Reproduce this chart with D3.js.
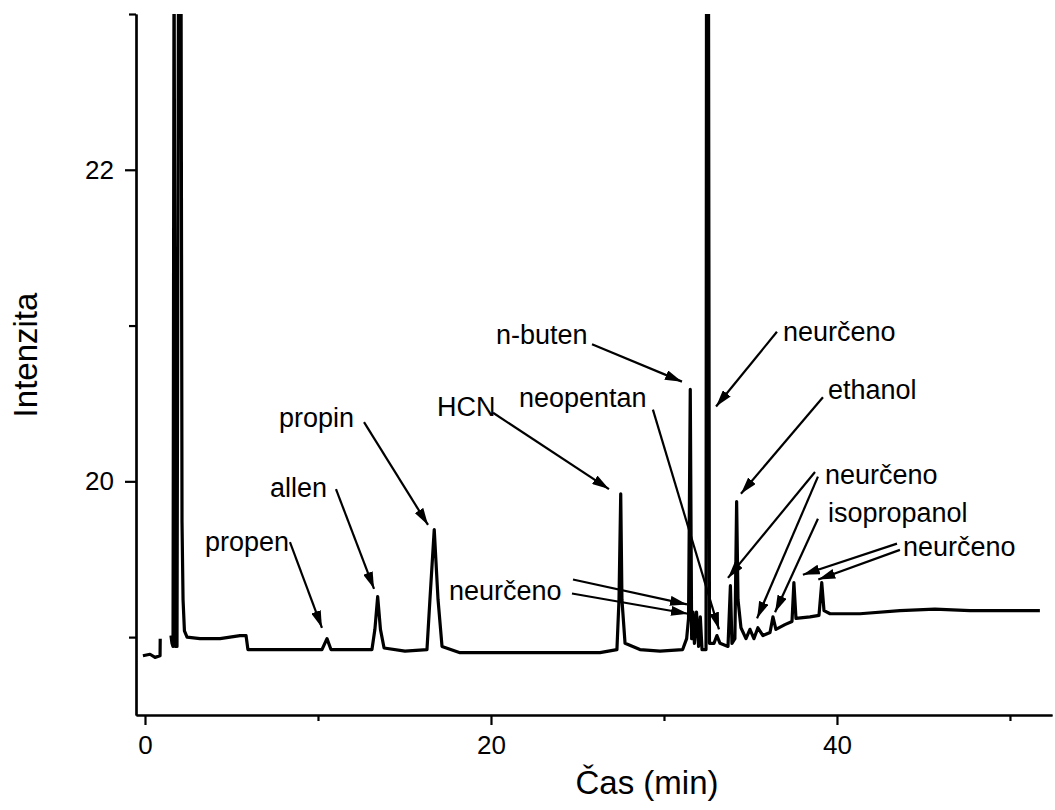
<!DOCTYPE html>
<html>
<head>
<meta charset="utf-8">
<script src="https://cdn.jsdelivr.net/npm/d3@7"></script>
<style>
  body { margin: 0; background: #fff; }
  text { font-family: "Liberation Sans", Arial, sans-serif; fill: #000; }
</style>
</head>
<body>
<div id="chart"></div>
<script>
// chromatogram trace (time in min, intensity)
const time = [
  -0.12, 0.29, 0.58, 0.87, 0.88, null,
  1.50, 1.56, 1.62, 1.68, 1.76, 1.85, 1.94, 2.08, 2.14, 2.20, 2.28, 2.43,
  3.18, 4.34, 5.49, 5.84, 5.95, 7.23, 8.96, 10.23, 10.52, 10.75, 11.85,
  13.12, 13.29, 13.45, 13.61, 13.82, 15.03, 16.30, 16.47, 16.72, 16.94, 17.17,
  18.21, 20.52, 23.99, 26.30, 27.28, 27.40, 27.50, 27.57, 27.75, 28.61,
  29.77, 31.08, 31.31, 31.42, 31.52, 31.60, 31.68, 31.76, 31.88, 32.00,
  32.10, 32.20, 32.43, 32.46, 32.57, 32.63, 32.89, 33.06, 33.24, 33.70,
  33.84, 33.93, 34.10, 34.20, 34.28, 34.45, 34.74, 34.97, 35.20, 35.43,
  35.72, 36.13, 36.30, 36.47, 36.99, 37.40, 37.51, 37.63, 38.44, 38.96,
  39.12, 39.25, 39.60, 41.33, 43.64, 45.66, 47.69, 49.42, 51.73
];
const intensity = [
  18.88, 18.89, 18.87, 18.88, 18.99, null,
  19.01, 18.96, 18.94, 23.5, 18.94, 18.94, 23.5, 23.5, 19.74, 19.24, 19.04, 19.00,
  18.99, 18.99, 19.01, 19.01, 18.92, 18.92, 18.92, 18.92, 18.99, 18.92, 18.92,
  18.92, 19.05, 19.26, 19.05, 18.93, 18.91, 18.92, 19.24, 19.69, 19.24, 18.94,
  18.90, 18.90, 18.90, 18.90, 18.92, 19.24, 19.92, 19.24, 18.96, 18.92,
  18.91, 18.92, 18.99, 19.12, 20.59, 18.99, 19.16, 18.96, 19.16, 18.94,
  19.13, 18.92, 18.92, 23.5, 23.5, 18.96, 18.96, 19.01, 18.96, 18.94,
  19.33, 18.96, 18.99, 19.87, 19.24, 19.06, 18.99, 19.05, 18.99, 19.06,
  19.01, 19.03, 19.13, 19.05, 19.08, 19.10, 19.35, 19.12, 19.13, 19.14,
  19.35, 19.17, 19.15, 19.15, 19.17, 19.18, 19.17, 19.17, 19.17
];

// axis ticks
const xMajorTicks = [0, 20, 40];
const xMinorTicks = [10, 30, 50];
const yMajorTicks = [20, 22];
const yMinorTicks = [19, 21, 23];

// peak labels: text anchor (time, intensity)
const labelText = ["propen", "allen", "propin", "HCN", "n-buten", "neopentan",
  "neurčeno", "ethanol", "neurčeno", "isopropanol", "neurčeno", "neurčeno"];
const labelTime = [3.47, 7.23, 7.75, 16.88, 20.29, 21.62, 36.88, 39.48, 39.31, 39.48, 43.82, 17.57];
const labelValue = [19.55, 19.90, 20.35, 20.42, 20.88, 20.48, 20.90, 20.53, 19.98, 19.74, 19.52, 19.24];

// arrows: label index, start (time, intensity), tip (time, intensity)
const arrowLabel = [0, 1, 2, 3, 4, 5, 6, 7, 8, 8, 9, 10, 10, 11, 11];
const arrowT0 = [8.38, 11.04, 12.66, 20.12, 25.84, 29.36, 36.53, 39.19, 38.73, 38.90, 38.90, 43.47, 43.64, 24.74, 24.68];
const arrowV0 = [19.61, 19.95, 20.38, 20.44, 20.88, 20.46, 20.96, 20.54, 20.06, 20.03, 19.76, 19.60, 19.56, 19.37, 19.28];
const arrowT1 = [10.23, 13.24, 16.36, 26.82, 31.04, 33.18, 33.01, 34.45, 33.70, 35.38, 36.42, 38.03, 38.92, 31.33, 31.39];
const arrowV1 = [19.06, 19.31, 19.72, 19.95, 20.64, 19.05, 20.48, 19.92, 19.38, 19.12, 19.16, 19.40, 19.37, 19.21, 19.15];

const width = 1055, height = 810;

const svg = d3.select("#chart").append("svg")
  .attr("width", width)
  .attr("height", height);

const x = d3.scaleLinear().domain([-0.52, 52.43]).range([136, 1052]);
const y = d3.scaleLinear().domain([18.5, 23]).range([715, 14]);

svg.append("defs").append("clipPath").attr("id", "plot")
  .append("rect").attr("x", 136).attr("y", 14).attr("width", 920).attr("height", 701);

const arrowHead = svg.select("defs").append("marker")
  .attr("id", "head")
  .attr("markerUnits", "userSpaceOnUse")
  .attr("viewBox", "0 0 17 10")
  .attr("refX", 17).attr("refY", 5)
  .attr("markerWidth", 17).attr("markerHeight", 10)
  .attr("orient", "auto");
arrowHead.append("path").attr("d", "M0,0 L17,5 L0,10 Z").attr("fill", "#000");

// trace
const trace = time.map((t, i) => ({ t: t, v: intensity[i] }));
const line = d3.line()
  .defined(d => d.t != null && d.v != null)
  .x(d => x(d.t))
  .y(d => y(d.v));

svg.append("path")
  .datum(trace)
  .attr("clip-path", "url(#plot)")
  .attr("d", line)
  .attr("fill", "none")
  .attr("stroke", "#000")
  .attr("stroke-width", 3.2)
  .attr("stroke-linejoin", "round");

// axes
const styleAxis = g => {
  g.selectAll("path, line").attr("stroke", "#000").attr("stroke-width", 2.2);
  g.selectAll("text").style("font-size", "26px").attr("fill", "#000")
    .style("font-family", "'Liberation Sans', Arial, sans-serif");
};

svg.append("g").attr("transform", "translate(0,715)")
  .call(d3.axisBottom(x).tickValues(xMajorTicks).tickSize(10).tickSizeOuter(0)
    .tickPadding(11).tickFormat(d3.format("d")))
  .call(styleAxis);
svg.append("g").attr("transform", "translate(0,715)")
  .call(d3.axisBottom(x).tickValues(xMinorTicks).tickSize(6).tickSizeOuter(0).tickFormat(""))
  .call(styleAxis);
svg.append("g").attr("transform", "translate(136,0)")
  .call(d3.axisLeft(y).tickValues(yMajorTicks).tickSize(11).tickSizeOuter(0)
    .tickPadding(11).tickFormat(d3.format("d")))
  .call(styleAxis);
svg.append("g").attr("transform", "translate(136,0)")
  .call(d3.axisLeft(y).tickValues(yMinorTicks).tickSize(7).tickSizeOuter(0).tickFormat(""))
  .call(styleAxis);

// axis titles
svg.append("text")
  .attr("transform", "translate(37,355) rotate(-90)")
  .attr("text-anchor", "middle")
  .style("font-size", "33px")
  .text("Intenzita");

svg.append("text")
  .attr("x", 647).attr("y", 794)
  .attr("text-anchor", "middle")
  .style("font-size", "33px")
  .text("Čas (min)");

// labels and arrows
svg.append("g").selectAll("text")
  .data(labelText)
  .join("text")
  .attr("x", (d, i) => x(labelTime[i]))
  .attr("y", (d, i) => y(labelValue[i]))
  .style("font-size", "27px")
  .text(d => d);

svg.append("g").selectAll("line")
  .data(arrowLabel)
  .join("line")
  .attr("x1", (d, i) => x(arrowT0[i]))
  .attr("y1", (d, i) => y(arrowV0[i]))
  .attr("x2", (d, i) => x(arrowT1[i]))
  .attr("y2", (d, i) => y(arrowV1[i]))
  .attr("stroke", "#000")
  .attr("stroke-width", 2.2)
  .attr("marker-end", "url(#head)");
</script>
</body>
</html>
